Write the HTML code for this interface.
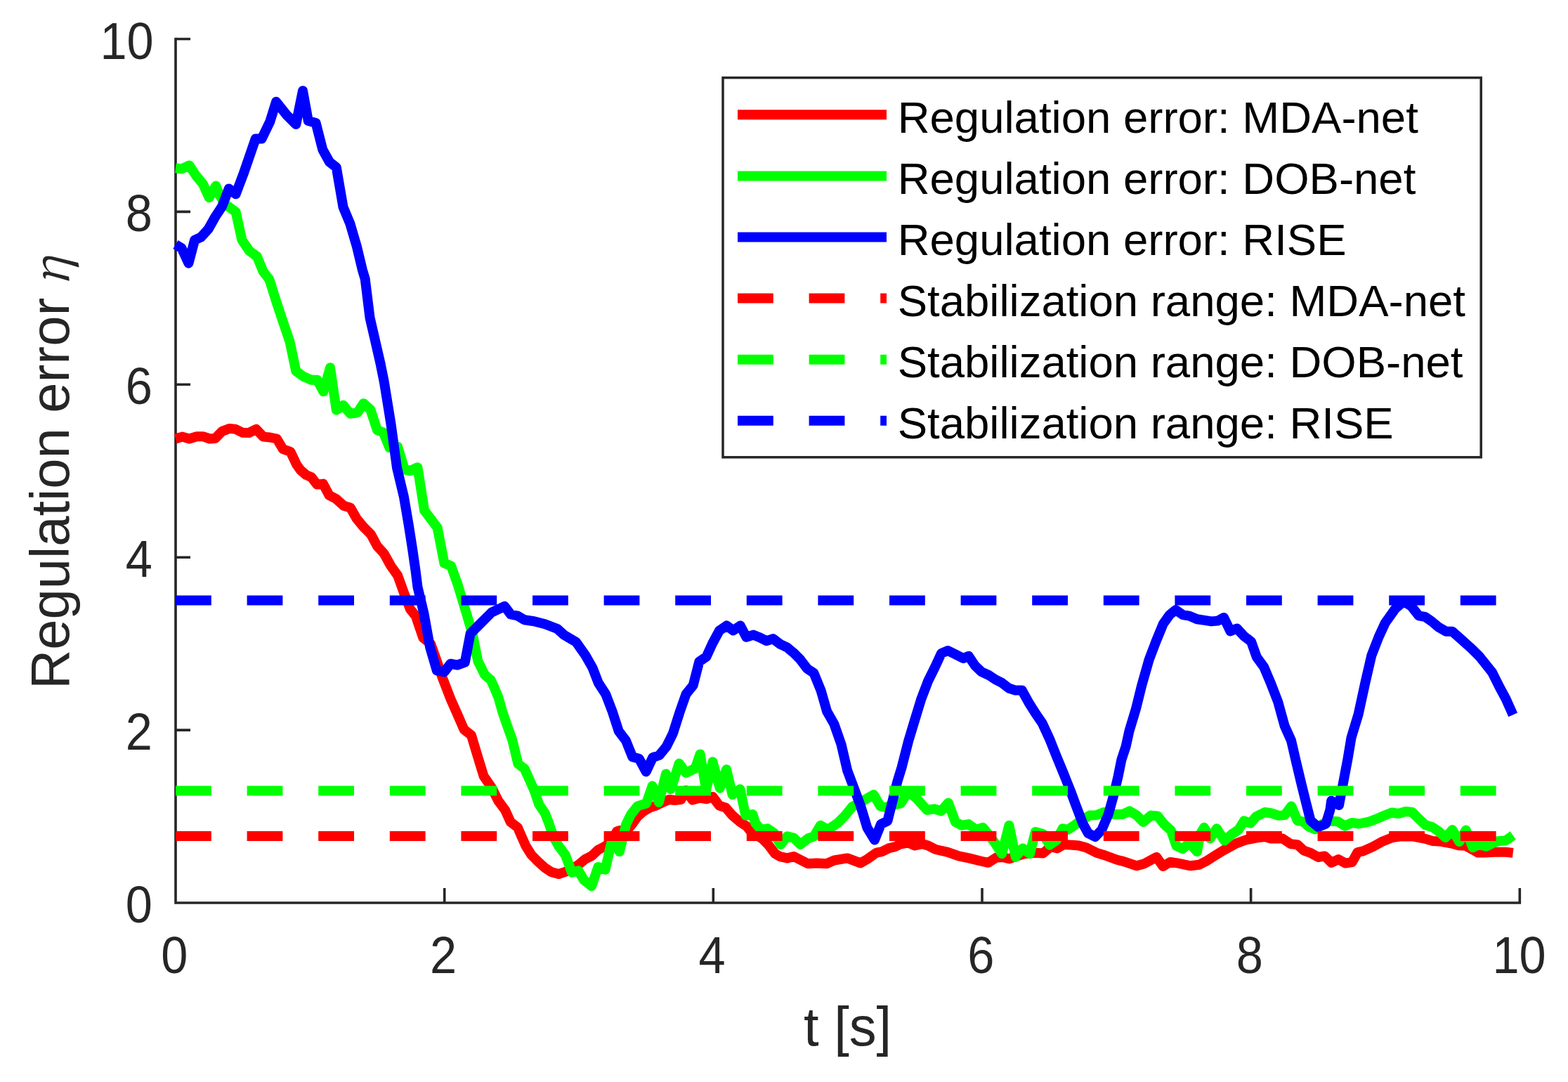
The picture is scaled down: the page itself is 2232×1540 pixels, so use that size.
<!DOCTYPE html>
<html><head><meta charset="utf-8">
<style>
html,body{margin:0;padding:0;background:#fff;}
svg{display:block;}
text{font-family:"Liberation Sans",Arial,sans-serif;}
</style></head>
<body>
<svg width="2232" height="1540" viewBox="0 0 2232 1540">
<rect width="2232" height="1540" fill="#fff"/>
<!-- axes -->
<g stroke="#262626" stroke-width="3.6" fill="none">
<path d="M250 55.5V1285H2163.3" stroke-linecap="square"/>
<path d="M250 1039.1h21M250 793.2h21M250 547.3h21M250 301.4h21M250 55.5h21"/>
<path d="M632.7 1285v-21M1015.3 1285v-21M1398 1285v-21M1780.6 1285v-21M2163.3 1285v-21"/>
</g>
<!-- curves -->
<g id="curves" fill="none" stroke-width="14" stroke-linejoin="round" stroke-linecap="butt">
<path stroke="#f00" d="M249.9 624.5L259.6 621.6 269.4 624.5 280.1 621.2 288.8 621.2 298.6 624.5 306.4 623.9 316.1 613.8 326.8 609.9 335.6 610.9 345.3 615.7 354.1 616.1 364.8 610.9 374.6 621.6 384.3 622.5 394.0 624.5 402.8 639.1 413.5 643.0 422.3 661.5 427.8 669.1 435.6 675.9 443.4 679.2 451.2 689.6 459.9 688.6 468.7 705.1 478.4 710.0 489.2 719.8 498.9 722.7 507.7 738.3 517.4 750.0 528.1 760.7 536.9 777.2 546.6 787.9 556.4 805.5 566.1 819.1 574.1 841.4 583.8 866.8 591.6 876.5 602.3 907.7 613.1 916.4 621.8 940.8 629.6 964.2 641.5 995.0 650.1 1014.3 660.5 1038.2 670.9 1046.5 680.3 1077.7 688.6 1104.7 700.0 1121.3 709.4 1140.0 719.0 1152.9 726.8 1170.0 736.9 1177.8 742.3 1190.3 748.6 1204.3 756.4 1216.7 765.7 1226.1 775.1 1234.7 784.4 1240.9 795.3 1244.0 804.7 1240.9 814.0 1237.0 823.4 1230.8 832.7 1223.0 842.1 1218.3 851.4 1209.7 861.5 1204.3 870.1 1198.0 877.9 1183.5 882.6 1182.0 890.4 1184.0 899.7 1173.1 907.5 1162.2 915.3 1155.2 924.7 1149.7 934.0 1146.6 944.9 1141.2 952.7 1138.0 960.0 1139.0 969.4 1138.0 976.4 1125.0 985.7 1138.6 995.8 1135.7 1006.0 1137.3 1014.5 1134.0 1023.9 1146.6 1033.2 1149.7 1042.6 1160.6 1053.5 1170.0 1062.9 1176.2 1069.1 1184.0 1084.7 1193.4 1094.0 1202.7 1103.4 1215.2 1110.4 1219.1 1120.5 1221.4 1129.9 1219.1 1139.2 1223.8 1150.1 1229.2 1162.6 1228.4 1176.6 1229.2 1187.5 1224.5 1206.2 1221.4 1224.9 1228.4 1234.3 1223.0 1240.0 1219.0 1247.8 1213.6 1255.6 1212.1 1264.9 1207.4 1274.3 1205.1 1282.1 1201.2 1293.0 1199.6 1302.3 1203.5 1313.2 1201.2 1321.0 1203.5 1331.9 1209.0 1349.1 1212.9 1364.7 1218.3 1380.3 1221.6 1395.8 1225.5 1406.7 1227.8 1417.7 1220.8 1427.0 1220.0 1436.4 1222.3 1447.3 1218.4 1458.2 1215.3 1473.8 1213.8 1484.7 1214.5 1495.6 1205.2 1504.9 1207.4 1514.3 1202.0 1526.7 1202.7 1535.6 1203.5 1546.5 1206.6 1560.5 1213.6 1573.0 1217.5 1590.1 1223.8 1599.5 1226.1 1618.2 1232.3 1629.1 1229.2 1646.2 1219.9 1655.6 1233.1 1665.7 1226.9 1675.8 1228.4 1694.5 1232.3 1707.0 1230.8 1716.4 1226.1 1727.3 1219.1 1741.3 1210.5 1760.0 1200.4 1772.5 1195.7 1788.0 1192.6 1800.5 1191.0 1808.3 1193.4 1825.7 1193.5 1837.4 1201.3 1846.8 1202.1 1856.1 1210.6 1865.5 1213.8 1876.4 1220.0 1885.7 1218.4 1895.1 1227.8 1905.2 1223.1 1915.3 1228.6 1924.7 1227.0 1932.5 1213.0 1940.3 1211.4 1954.3 1205.2 1968.3 1197.4 1982.2 1192.0 1992.5 1190.5 2009.3 1190.2 2029.0 1193.9 2038.9 1196.9 2048.7 1197.4 2065.5 1200.3 2076.3 1203.3 2086.2 1203.8 2096.0 1209.2 2103.9 1213.6 2113.8 1213.6 2127.6 1212.7 2143.3 1212.7 2153.7 1213.9"/>
<path stroke="#0f0" d="M249.9 239.3L258.6 240.3 269.4 235.4 279.1 250.0 288.8 261.7 297.6 281.2 307.3 264.6 312.2 277.3 321.0 290.9 335.6 301.6 344.4 341.6 355.1 357.2 365.8 365.0 374.6 386.4 383.3 397.5 393.1 428.7 402.8 457.9 412.5 486.2 421.3 528.1 432.0 535.9 442.7 540.7 451.5 540.7 460.3 557.3 470.0 523.2 478.8 583.6 488.5 576.8 498.6 588.8 508.8 587.4 517.5 574.2 527.3 583.0 537.0 612.2 545.7 615.5 554.4 637.0 566.1 636.0 575.9 668.1 583.6 670.1 594.4 665.2 604.1 726.6 622.6 750.9 632.4 801.6 642.1 805.5 651.8 832.7 662.7 868.7 672.5 901.8 680.3 940.8 690.0 960.3 698.8 968.1 704.2 980.0 709.4 992.5 715.6 1014.3 723.9 1038.2 729.1 1052.7 737.4 1087.0 746.8 1094.3 756.1 1115.1 761.0 1126.4 767.3 1145.1 775.8 1157.5 781.3 1171.6 787.5 1190.3 795.3 1204.3 804.7 1216.7 814.0 1241.7 823.4 1239.3 831.2 1252.6 842.1 1261.2 851.4 1233.9 861.5 1237.8 867.0 1213.6 871.7 1193.4 881.8 1212.1 887.3 1190.3 891.2 1173.1 898.2 1159.1 907.5 1147.4 920.0 1143.5 928.6 1118.6 937.9 1141.9 948.0 1101.4 955.0 1123.2 966.7 1086.6 976.4 1099.9 989.6 1093.6 996.6 1073.4 1005.2 1124.0 1014.5 1084.3 1024.7 1121.7 1034.0 1095.2 1042.6 1131.0 1053.5 1123.2 1061.3 1160.6 1071.4 1159.1 1075.3 1171.6 1083.1 1180.9 1092.5 1179.3 1101.8 1185.6 1111.2 1201.9 1120.5 1190.3 1129.9 1192.6 1139.2 1201.9 1150.1 1193.4 1158.7 1190.3 1168.0 1174.7 1178.2 1180.9 1192.2 1171.6 1203.1 1160.6 1213.2 1148.2 1224.9 1141.9 1243.6 1131.0 1253.2 1147.4 1260.3 1149.0 1271.0 1146.0 1282.1 1143.5 1293.0 1126.4 1305.5 1137.3 1319.5 1152.9 1329.6 1151.3 1339.7 1154.4 1349.9 1142.7 1360.0 1170.0 1369.3 1174.7 1378.7 1173.1 1389.6 1180.9 1399.0 1177.8 1406.7 1187.1 1416.1 1199.6 1426.2 1215.2 1436.4 1174.7 1445.7 1219.9 1455.8 1207.4 1466.0 1215.2 1473.8 1184.0 1484.7 1187.1 1494.0 1202.7 1503.4 1196.5 1512.7 1179.3 1520.0 1180.9 1529.4 1174.7 1538.7 1167.7 1551.2 1160.5 1560.5 1160.3 1571.4 1156.0 1585.5 1159.1 1597.9 1159.1 1608.0 1154.4 1618.2 1160.6 1627.5 1170.0 1638.4 1160.6 1647.8 1161.4 1657.1 1173.1 1667.0 1182.0 1674.5 1204.0 1683.6 1208.2 1693.0 1199.6 1703.9 1212.1 1708.6 1187.1 1714.0 1177.8 1722.6 1193.4 1731.9 1179.3 1743.0 1196.5 1753.8 1187.1 1763.1 1180.9 1770.9 1168.4 1780.2 1171.6 1788.0 1162.2 1800.5 1156.0 1809.9 1157.5 1820.3 1160.8 1828.8 1160.0 1838.2 1147.5 1846.8 1167.8 1854.5 1169.3 1863.9 1177.1 1871.7 1180.3 1880.0 1174.0 1891.9 1168.6 1904.4 1169.3 1914.5 1175.6 1924.7 1170.9 1934.0 1172.5 1949.6 1169.3 1960.0 1165.3 1969.9 1160.9 1981.2 1156.5 1990.6 1158.0 2000.9 1155.0 2010.3 1156.0 2019.1 1164.9 2029.0 1174.2 2038.9 1177.2 2047.7 1183.1 2057.6 1192.0 2067.4 1181.1 2077.3 1197.9 2086.7 1181.6 2096.5 1206.2 2105.9 1201.8 2115.7 1204.8 2125.6 1199.8 2133.5 1196.9 2143.3 1196.4 2153.7 1189.0"/>
<path stroke="#00f" d="M250.0 348.0L258.6 353.3 268.4 374.7 277.1 341.6 285.9 337.7 296.6 326.0 306.4 308.5 316.1 293.8 325.8 268.5 335.6 276.3 346.3 248.1 363.8 197.4 372.6 197.4 384.3 173.1 393.1 144.8 408.6 164.3 421.3 177.0 431.0 129.2 438.8 172.1 449.6 175.0 459.3 213.0 469.0 230.5 478.8 238.3 488.5 294.8 498.3 318.2 508.0 351.3 515.8 383.9 519.7 397.0 526.5 452.1 535.0 489.0 541.3 516.4 546.7 543.0 556.4 602.9 565.1 666.2 574.9 707.1 581.7 747.0 586.6 778.2 591.4 811.3 594.5 835.6 603.3 872.6 612.1 921.3 621.8 954.4 632.5 956.4 641.3 944.7 651.0 946.6 661.8 942.7 669.6 901.8 685.1 886.2 699.8 871.6 718.3 862.9 727.0 874.5 736.8 876.5 746.5 882.3 760.1 884.3 775.7 888.2 793.3 895.0 803.0 903.8 812.7 909.6 820.0 913.8 833.2 932.5 843.4 950.4 851.9 972.2 862.1 987.8 871.4 1011.9 880.8 1040.8 890.9 1054.0 900.3 1077.4 909.6 1079.7 919.7 1098.4 929.1 1078.2 938.4 1075.0 948.6 1062.6 957.9 1043.9 967.3 1014.3 976.6 987.8 986.7 975.3 995.3 941.8 1005.4 934.8 1014.0 916.1 1024.1 897.4 1034.3 890.4 1043.6 897.4 1053.8 890.4 1062.3 906.8 1072.5 903.6 1081.8 907.5 1091.2 912.2 1100.5 909.1 1110.6 916.9 1120.3 921.3 1129.6 929.1 1139.0 938.4 1149.1 951.7 1158.4 957.9 1168.6 982.9 1177.1 1012.5 1187.3 1030.4 1197.4 1059.2 1206.2 1096.8 1215.6 1121.7 1224.9 1146.6 1234.3 1177.8 1244.9 1195.5 1254.0 1173.1 1263.4 1168.4 1271.2 1137.3 1277.4 1112.3 1283.6 1092.1 1293.2 1054.5 1302.6 1023.4 1311.2 995.3 1321.3 968.8 1330.6 950.1 1340.0 929.9 1349.3 926.0 1361.8 932.2 1371.2 936.9 1378.9 933.8 1388.0 947.5 1397.1 956.1 1407.3 960.8 1416.6 967.0 1426.0 971.7 1436.1 979.5 1445.5 982.6 1454.8 982.6 1464.2 999.7 1473.5 1014.5 1483.6 1029.3 1493.8 1051.2 1503.1 1074.5 1514.0 1101.0 1524.0 1126.0 1531.0 1145.0 1541.5 1172.5 1549.0 1186.0 1559.0 1191.0 1568.3 1180.9 1577.7 1159.1 1585.5 1131.0 1591.7 1104.5 1596.4 1081.2 1602.6 1062.5 1607.5 1040.3 1616.9 1009.1 1625.4 974.8 1635.6 939.0 1645.5 913.0 1655.6 888.3 1664.9 875.1 1673.5 868.1 1683.6 875.1 1693.0 876.6 1703.9 881.3 1714.8 882.9 1724.2 884.4 1733.5 883.6 1742.1 879.0 1751.4 898.4 1760.8 894.5 1770.9 905.5 1781.0 913.2 1788.8 935.1 1799.0 949.1 1808.3 970.9 1819.2 999.0 1828.6 1033.2 1838.0 1054.0 1845.2 1085.2 1853.0 1117.9 1859.2 1142.9 1865.5 1167.8 1876.4 1177.1 1887.3 1172.5 1893.5 1152.2 1895.1 1139.7 1906.0 1146.0 1912.2 1113.2 1918.4 1080.5 1923.5 1050.0 1933.6 1016.7 1943.3 971.9 1952.3 933.0 1962.7 906.2 1971.7 886.7 1986.6 865.8 1997.1 856.9 2003.0 859.1 2009.0 862.9 2019.5 876.3 2028.4 877.8 2038.1 884.5 2047.8 892.7 2058.3 898.7 2067.3 898.7 2079.2 909.2 2094.1 922.6 2106.1 934.5 2124.0 956.9 2134.5 977.9 2143.4 994.3 2153.7 1017.4"/>
</g>
<!-- dashed stabilization ranges -->
<g fill="none" stroke-width="14" stroke-dasharray="50.8 50.8">
<path d="M250 1190.1H2163.3" stroke="#f00"/>
<path d="M250 1125.4H2163.3" stroke="#0f0"/>
<path d="M250 854.4H2163.3" stroke="#00f"/>
</g>
<g fill="#262626" font-size="68.5" text-anchor="end">
<text transform="translate(216.8 1313.0) scale(1 1.07)">0</text>
<text transform="translate(216.8 1067.1) scale(1 1.07)">2</text>
<text transform="translate(216.8 821.2) scale(1 1.07)">4</text>
<text transform="translate(216.8 575.3) scale(1 1.07)">6</text>
<text transform="translate(216.8 329.4) scale(1 1.07)">8</text>
<text transform="translate(218.6 83.5) scale(1 1.07)">10</text>
</g>
<g fill="#262626" font-size="68.5" text-anchor="middle">
<text transform="translate(248.3 1385.2) scale(1 1.07)">0</text>
<text transform="translate(631.0 1385.2) scale(1 1.07)">2</text>
<text transform="translate(1013.6 1385.2) scale(1 1.07)">4</text>
<text transform="translate(1396.3 1385.2) scale(1 1.07)">6</text>
<text transform="translate(1778.9 1385.2) scale(1 1.07)">8</text>
<text transform="translate(2162.5 1385.2) scale(1 1.07)">10</text>
</g>
<text x="1206.6" y="1488.3" fill="#262626" font-size="77.7" text-anchor="middle">t [s]</text>
<text transform="translate(97.9 980.8) rotate(-90)" fill="#262626" font-size="77.7">Regulation error <tspan dx="-5" font-family="'Noto Serif CJK SC', serif" font-style="italic" font-size="70">η</tspan></text>
<!-- legend -->
<rect x="1029" y="110.6" width="1079.2" height="540.2" fill="#fff" stroke="#262626" stroke-width="3.5"/>
<g fill="none" stroke-width="14">
<path d="M1050 163.3H1262" stroke="#f00"/>
<path d="M1050 250.4H1262" stroke="#0f0"/>
<path d="M1050 337.5H1262" stroke="#00f"/>
<g stroke-dasharray="50.8 50.8">
<path d="M1050 424.6H1262" stroke="#f00"/>
<path d="M1050 511.7H1262" stroke="#0f0"/>
<path d="M1050 598.8H1262" stroke="#00f"/>
</g>
</g>
<g fill="#000" font-size="63.5">
<text x="1277.7" y="188.7">Regulation error: MDA-net</text>
<text x="1277.7" y="275.8">Regulation error: DOB-net</text>
<text x="1277.7" y="362.9">Regulation error: RISE</text>
<text x="1277.7" y="450">Stabilization range: MDA-net</text>
<text x="1277.7" y="537.1">Stabilization range: DOB-net</text>
<text x="1277.7" y="624.2">Stabilization range: RISE</text>
</g>
</svg>
</body></html>
